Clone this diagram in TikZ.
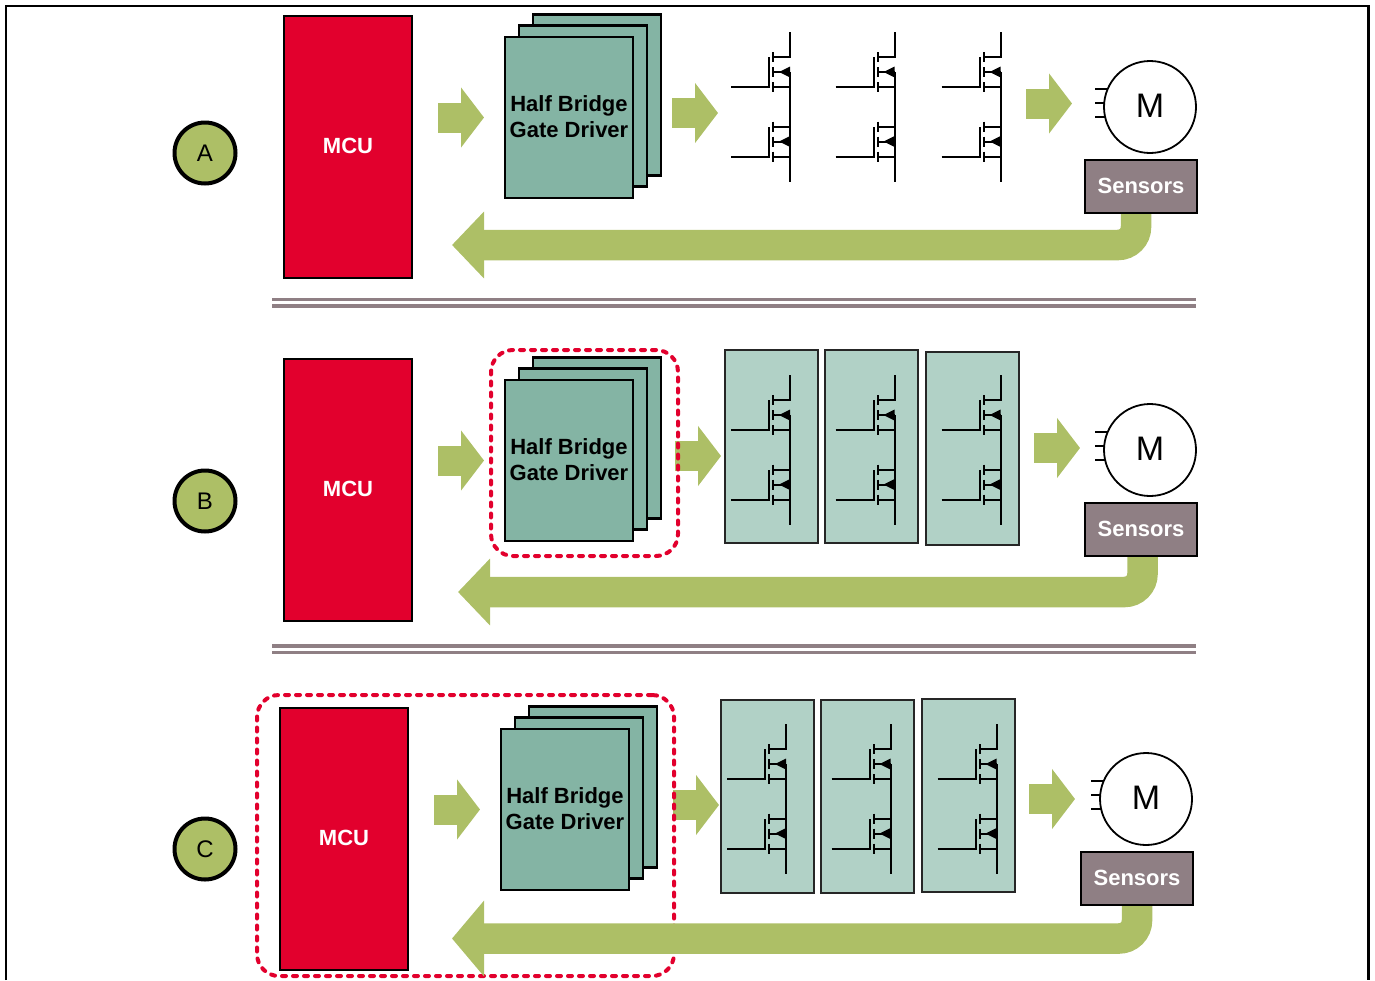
\documentclass[tikz,border=0pt]{standalone}
\usepackage{fontspec}
\setmainfont{Liberation Sans}
\usepackage{xcolor}
\usetikzlibrary{arrows.meta,positioning,calc,backgrounds}
\definecolor{mcured}{HTML}{E2002D}
\definecolor{leaf}{HTML}{ADBF66}
\definecolor{driver}{HTML}{84B4A4}
\definecolor{module}{HTML}{B1D1C6}
\definecolor{mauve}{HTML}{8F7F84}
\tikzset{
  mcubox/.style={draw=black,line width=2pt,fill=mcured,text=white,minimum width=128pt,minimum height=262pt,inner sep=0pt,outer sep=0pt,text depth=2pt,font=\fontsize{22}{26}\selectfont\bfseries},
  drvbox/.style={draw=black,line width=2.2pt,fill=driver,minimum width=128pt,minimum height=161pt,inner sep=0pt,outer sep=0pt,align=center,text depth=2pt,font=\fontsize{22}{26}\selectfont\bfseries},
  modbox/.style={draw=black!85,line width=2pt,fill=module,minimum width=93pt,minimum height=193pt,inner sep=0pt,outer sep=0pt},
  sensbox/.style={draw=black,line width=2.2pt,fill=mauve,text=white,minimum width=112pt,minimum height=53pt,inner sep=0pt,outer sep=0pt,text depth=2pt,font=\fontsize{22}{26}\selectfont\bfseries},
  motorc/.style={circle,draw=black,line width=1.8pt,fill=white,minimum size=92pt,inner sep=0pt,outer sep=0pt,font=\fontsize{34}{36}\selectfont},
  tagc/.style={circle,draw=black,line width=4pt,fill=leaf,minimum size=61pt,inner sep=0pt,outer sep=0pt,font=\fontsize{24}{26}\selectfont},
  zone/.style={draw=mcured,line width=4pt,rounded corners=22pt,line cap=round,dash pattern=on 4pt off 7pt,inner sep=0pt,outer sep=0pt},
  blockarrow/.style={draw=leaf,line width=30pt,-{Triangle[length=23pt,width=59pt]}},
  backarrow/.style={draw=leaf,line width=30.5pt,rounded corners=18pt,-{Triangle[length=32pt,width=#1pt]}},
  fetline/.style={line width=2pt,draw=black},
  halfbridge/.pic={
    % rail and the two switches, origin at the top of the rail
    \draw[fetline] (0,0) -- (0,25) -- (-17,25);
    \draw[fetline] (0,40) -- (0,150);
    \foreach \t in {0,69.5}{
      \draw[fetline] (-59,55+\t) -- (-21,55+\t) -- (-21,25+\t);
      \draw[fetline] (-17,20+\t) -- (-17,30+\t);
      \draw[fetline] (-17,35+\t) -- (-17,45+\t);
      \draw[fetline] (-17,50+\t) -- (-17,60+\t);
      \draw[fetline] (-17,40+\t) -- (0,40+\t);
      \draw[fetline] (-17,55+\t) -- (0,55+\t);
      \fill[black] (-11,40+\t) -- (0,34.5+\t) -- (0,45.5+\t) -- cycle;}
    \draw[fetline] (-17,94.5) -- (0,94.5);
  }
}
\begin{document}
\begin{tikzpicture}[x=1pt,y=-1pt]
  \useasboundingbox (0,0) rectangle (1375,980);
  % frame, open at the bottom
  \draw[line width=2.5pt] (6,980) -- (6,6) -- (1368.5,6) -- (1368.5,980);
  % separators
  \foreach \y in {299.5,306,646,652.5}{
    \draw[mauve,line width=3.4pt] (272,\y) -- (1196,\y);}
  % tags
  \foreach \r/\y in {A/153,B/501,C/849}{
    \node[tagc] (tag\r) at (205,\y) {\r};}
  % power modules
  \node[modbox] (modB1) at (771.5,446.5) {};
  \node[modbox] (modB2) at (871.5,446.5) {};
  \node[modbox] (modB3) at (972,448.5) {};
  \node[modbox] (modC1) at (767.5,796) {};
  \node[modbox] (modC2) at (867.5,796.5) {};
  \node[modbox] (modC3) at (968,795) {};
  % one row per variant
  \foreach \r/\sx/\sy/\ax/\bx/\by in {A/0/0/672/1026/103.5,B/0/343/675/1034/105,C/-4/692/677/1033/107}{
    \begin{scope}[shift={(\sx,\sy)}]
      \node[mcubox] (mcu\r) at (348,147) {MCU};
      \node[drvbox] (drv\r c) at (597,95) {};
      \node[drvbox] (drv\r b) at (583,106) {};
      \node[drvbox] (drv\r) at (569,117.5) {Half Bridge\\Gate Driver};
      \foreach \k/\x in {1/790,2/894.5,3/1000.5}{
        \pic (fet\r\k) at (\x,32) {halfbridge};}
      \node[motorc] (motor\r) at (1150,107) {\raisebox{2pt}{M}};
      \node[sensbox] (sens\r) at (1141,186.5) {Sensors};
      \coordinate (gateout\r) at (\ax,113);
      \coordinate (gatein\r) at ({\ax+46},113);
      \coordinate (motorout\r) at (\bx,\by);
      \coordinate (motorin\r) at ({\bx+46},\by);
      \draw[blockarrow,shorten <=26pt,shorten >=21pt] (drv\r.west -| mcu\r.east) -- (drv\r.west);
      \draw[blockarrow] (motorout\r) -- (motorin\r);
      \begin{scope}[on background layer]
        \foreach \k in {-18,-4,10}{
          \draw[fetline] ($(motor\r.center)+(-55,\k)$) -- ($(motor\r.center)+(-36,\k)$);}
        \draw[blockarrow] (gateout\r) -- (gatein\r);
      \end{scope}
    \end{scope}}
  \begin{scope}[on background layer]
    % integration boundaries
    \node[zone,minimum width=187pt,minimum height=206pt] (zoneB) at (584.5,453) {};
    \node[zone,minimum width=417pt,minimum height=281pt] (zoneC) at (465.5,835.5) {};
    % feedback from the sensors
    \foreach \r/\rv/\ry/\rs/\rw in {A/-5/245/40/65,B/1.5/592/46/65,C/0/938.5/44/74}{
      \draw[backarrow=\rw,shorten >=\rs pt] ($(sens\r.south)+(\rv,0)$) |- (mcu\r.east |- 0,\ry);}
  \end{scope}
\end{tikzpicture}
\end{document}
